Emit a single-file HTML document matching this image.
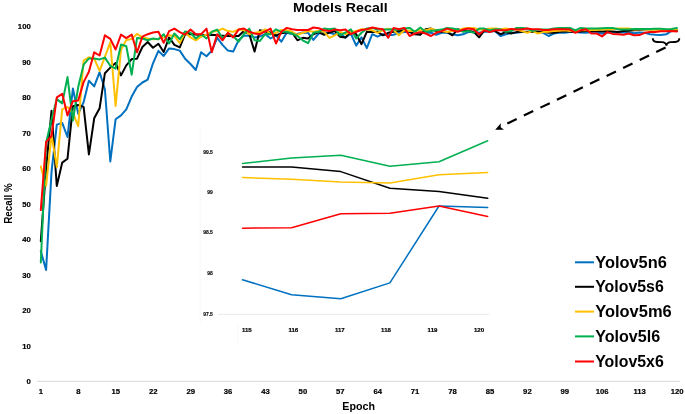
<!DOCTYPE html>
<html><head><meta charset="utf-8"><title>Models Recall</title>
<style>
html,body{margin:0;padding:0;background:#fff;}
body{width:685px;height:414px;overflow:hidden;}
svg{display:block;}
text{font-family:"Liberation Sans",sans-serif;font-weight:bold;fill:#000;}
.t{font-size:7.7px;stroke:#000;stroke-width:0.2px;}
.i{font-size:5px;stroke:#000;stroke-width:0.1px;}.j{font-size:6.1px;stroke:#000;stroke-width:0.2px;}
.l{font-size:17.3px;}
polyline{fill:none;stroke-linejoin:round;stroke-linecap:round;}
</style></head><body>
<svg width="685" height="414" viewBox="0 0 685 414">
<rect width="685" height="414" fill="#fff"/>

<text x="292.9" y="12" textLength="94.8" lengthAdjust="spacingAndGlyphs" style="font-size:13.7px">Models Recall</text>
<line x1="37.2" y1="381.3" x2="680" y2="381.3" stroke="#d9d9d9" stroke-width="1"/>
<text class="t" x="30.7" y="383.9" text-anchor="end">0</text>
<text class="t" x="30.7" y="348.5" text-anchor="end">10</text>
<text class="t" x="30.7" y="313.0" text-anchor="end">20</text>
<text class="t" x="30.7" y="277.6" text-anchor="end">30</text>
<text class="t" x="30.7" y="242.1" text-anchor="end">40</text>
<text class="t" x="30.7" y="206.7" text-anchor="end">50</text>
<text class="t" x="30.7" y="171.2" text-anchor="end">60</text>
<text class="t" x="30.7" y="135.8" text-anchor="end">70</text>
<text class="t" x="30.7" y="100.3" text-anchor="end">80</text>
<text class="t" x="30.7" y="64.8" text-anchor="end">90</text>
<text class="t" x="30.7" y="29.4" text-anchor="end">100</text>
<text class="t" x="41.0" y="394.0" text-anchor="middle">1</text>
<text class="t" x="78.4" y="394.0" text-anchor="middle">8</text>
<text class="t" x="115.8" y="394.0" text-anchor="middle">15</text>
<text class="t" x="153.2" y="394.0" text-anchor="middle">22</text>
<text class="t" x="190.7" y="394.0" text-anchor="middle">29</text>
<text class="t" x="228.1" y="394.0" text-anchor="middle">36</text>
<text class="t" x="265.5" y="394.0" text-anchor="middle">43</text>
<text class="t" x="302.9" y="394.0" text-anchor="middle">50</text>
<text class="t" x="340.3" y="394.0" text-anchor="middle">57</text>
<text class="t" x="377.7" y="394.0" text-anchor="middle">64</text>
<text class="t" x="415.1" y="394.0" text-anchor="middle">71</text>
<text class="t" x="452.6" y="394.0" text-anchor="middle">78</text>
<text class="t" x="490.0" y="394.0" text-anchor="middle">85</text>
<text class="t" x="527.4" y="394.0" text-anchor="middle">92</text>
<text class="t" x="564.8" y="394.0" text-anchor="middle">99</text>
<text class="t" x="602.2" y="394.0" text-anchor="middle">106</text>
<text class="t" x="639.6" y="394.0" text-anchor="middle">113</text>
<text class="t" x="677.1" y="394.0" text-anchor="middle">120</text>
<text x="358.6" y="409.7" text-anchor="middle" style="font-size:10.7px">Epoch</text>
<text transform="translate(11.6,203.6) rotate(-90)" text-anchor="middle" textLength="40.4" lengthAdjust="spacingAndGlyphs" style="font-size:11.3px">Recall %</text>
<polyline points="40.8,251.2 46.1,270.0 51.5,172.1 56.8,124.6 62.2,122.9 67.5,137.0 72.9,88.5 78.2,113.7 83.6,102.3 88.9,80.7 94.2,86.4 99.6,72.2 104.9,89.2 110.3,161.5 115.6,119.3 121.0,115.4 126.3,109.4 131.7,96.6 137.0,87.1 142.4,82.5 147.7,79.6 153.0,63.3 158.4,50.9 163.7,55.9 169.1,48.4 174.4,49.1 179.8,50.6 185.1,58.7 190.5,64.0 195.8,70.0 201.1,52.3 206.5,56.2 211.8,50.6 217.2,37.8 222.5,44.9 227.9,50.6 233.2,51.6 238.6,40.3 243.9,35.7 249.3,35.7 254.6,37.4 259.9,36.4 265.3,34.2 270.6,38.5 276.0,35.3 281.3,41.7 286.7,32.8 292.0,33.9 297.4,33.9 302.7,32.5 308.1,32.8 313.4,39.9 318.7,33.5 324.1,32.8 329.4,32.8 334.8,34.2 340.1,33.5 345.5,37.8 350.8,33.5 356.2,45.6 361.5,37.4 366.8,48.1 372.2,34.2 377.5,36.7 382.9,34.2 388.2,35.3 393.6,34.8 398.9,32.8 404.3,32.1 409.6,32.1 414.9,34.2 420.3,32.8 425.6,32.8 431.0,32.8 436.3,34.8 441.7,32.8 447.0,32.8 452.4,34.2 457.7,35.3 463.1,34.2 468.4,32.1 473.7,32.1 479.1,32.8 484.4,31.8 489.8,31.8 495.1,31.1 500.5,36.0 505.8,34.2 511.2,32.8 516.5,32.8 521.8,32.1 527.2,32.1 532.5,32.1 537.9,32.1 543.2,32.8 548.6,36.0 553.9,33.5 559.3,32.8 564.6,32.8 570.0,32.1 575.3,32.1 580.6,32.5 586.0,32.8 591.3,32.1 596.7,32.5 602.0,33.5 607.4,32.5 612.7,32.5 618.1,32.5 623.4,32.5 628.7,32.5 634.1,33.2 639.4,32.5 644.8,32.8 650.1,34.2 655.5,34.8 660.8,35.0 666.2,34.3 671.5,30.9 676.9,31.0" stroke="#0070C0" stroke-width="2"/>
<polyline points="40.8,241.3 46.1,168.6 51.5,110.8 56.8,186.0 62.2,162.6 67.5,158.7 72.9,106.2 78.2,105.1 83.6,106.9 88.9,154.4 94.2,118.3 99.6,108.3 104.9,73.2 110.3,67.6 115.6,63.0 121.0,75.4 126.3,65.4 131.7,59.1 137.0,58.7 142.4,47.0 147.7,42.0 153.0,47.7 158.4,43.8 163.7,52.0 169.1,37.4 174.4,44.9 179.8,47.4 185.1,34.2 190.5,33.9 195.8,34.6 201.1,35.3 206.5,35.0 211.8,34.8 217.2,35.3 222.5,35.7 227.9,36.0 233.2,36.0 238.6,36.0 243.9,31.1 249.3,34.2 254.6,51.6 259.9,30.3 265.3,31.4 270.6,32.5 276.0,35.7 281.3,33.2 286.7,32.5 292.0,32.5 297.4,40.3 302.7,37.8 308.1,38.5 313.4,34.2 318.7,32.1 324.1,34.8 329.4,32.5 334.8,31.1 340.1,36.7 345.5,37.4 350.8,31.8 356.2,34.2 361.5,44.2 366.8,31.8 372.2,32.1 377.5,31.8 382.9,35.3 388.2,32.8 393.6,31.8 398.9,31.1 404.3,30.3 409.6,31.8 414.9,34.2 420.3,34.8 425.6,29.3 431.0,28.6 436.3,31.1 441.7,31.8 447.0,31.8 452.4,35.3 457.7,29.3 463.1,31.1 468.4,31.1 473.7,31.8 479.1,37.4 484.4,30.3 489.8,31.1 495.1,31.1 500.5,34.2 505.8,32.1 511.2,33.5 516.5,32.1 521.8,31.8 527.2,31.8 532.5,32.1 537.9,31.8 543.2,31.8 548.6,32.8 553.9,32.8 559.3,31.8 564.6,31.4 570.0,31.4 575.3,32.1 580.6,31.4 586.0,31.1 591.3,31.1 596.7,31.1 602.0,31.4 607.4,31.1 612.7,31.4 618.1,32.1 623.4,31.1 628.7,30.7 634.1,30.3 639.4,30.0 644.8,29.6 650.1,29.2 655.5,29.2 660.8,29.4 666.2,30.2 671.5,30.3 676.9,30.6" stroke="#000000" stroke-width="2"/>
<polyline points="40.8,166.5 46.1,186.0 51.5,134.9 56.8,167.2 62.2,109.4 67.5,106.9 72.9,112.9 78.2,126.1 83.6,60.5 88.9,57.3 94.2,58.7 99.6,70.8 104.9,56.9 110.3,42.4 115.6,105.9 121.0,49.8 126.3,39.9 131.7,38.9 137.0,33.9 142.4,37.4 147.7,38.5 153.0,39.2 158.4,38.9 163.7,37.4 169.1,35.3 174.4,36.0 179.8,43.1 185.1,32.5 190.5,37.4 195.8,40.3 201.1,36.7 206.5,34.6 211.8,31.8 217.2,31.1 222.5,28.6 227.9,31.1 233.2,31.8 238.6,29.3 243.9,30.3 249.3,34.2 254.6,32.8 259.9,32.1 265.3,29.3 270.6,34.2 276.0,32.8 281.3,30.0 286.7,30.3 292.0,31.8 297.4,34.8 302.7,32.8 308.1,31.1 313.4,31.8 318.7,31.1 324.1,31.8 329.4,37.8 334.8,35.3 340.1,31.8 345.5,34.2 350.8,32.1 356.2,31.1 361.5,29.3 366.8,29.6 372.2,30.3 377.5,32.8 382.9,30.3 388.2,28.6 393.6,30.0 398.9,35.3 404.3,30.3 409.6,31.1 414.9,31.1 420.3,30.3 425.6,30.3 431.0,28.6 436.3,30.3 441.7,31.1 447.0,32.1 452.4,31.1 457.7,30.3 463.1,28.6 468.4,27.9 473.7,27.9 479.1,29.6 484.4,29.6 489.8,28.6 495.1,28.6 500.5,29.3 505.8,28.6 511.2,29.3 516.5,29.6 521.8,31.1 527.2,32.8 532.5,31.1 537.9,33.5 543.2,32.1 548.6,31.8 553.9,31.1 559.3,30.7 564.6,30.3 570.0,31.1 575.3,30.7 580.6,30.3 586.0,30.3 591.3,30.0 596.7,30.0 602.0,29.6 607.4,29.6 612.7,29.3 618.1,28.6 623.4,28.6 628.7,28.6 634.1,29.6 639.4,29.6 644.8,29.6 650.1,29.7 655.5,29.8 660.8,29.9 666.2,29.9 671.5,29.6 676.9,29.5" stroke="#FFC000" stroke-width="2"/>
<polyline points="40.8,262.5 46.1,142.7 51.5,119.7 56.8,99.1 62.2,103.4 67.5,77.1 72.9,120.7 78.2,87.1 83.6,64.7 88.9,58.4 94.2,58.4 99.6,59.4 104.9,57.6 110.3,65.8 115.6,68.6 121.0,44.5 126.3,46.3 131.7,74.7 137.0,38.1 142.4,38.5 147.7,40.3 153.0,38.5 158.4,39.2 163.7,34.2 169.1,43.5 174.4,33.5 179.8,39.2 185.1,31.4 190.5,32.8 195.8,38.5 201.1,34.2 206.5,38.5 211.8,31.8 217.2,29.6 222.5,38.5 227.9,33.5 233.2,36.0 238.6,41.7 243.9,34.2 249.3,28.6 254.6,40.3 259.9,41.0 265.3,33.9 270.6,34.2 276.0,29.3 281.3,31.8 286.7,31.8 292.0,33.5 297.4,36.0 302.7,40.3 308.1,43.1 313.4,32.8 318.7,31.8 324.1,28.6 329.4,29.3 334.8,28.6 340.1,35.3 345.5,32.5 350.8,29.3 356.2,38.5 361.5,32.8 366.8,28.6 372.2,27.9 377.5,29.6 382.9,29.6 388.2,29.6 393.6,29.3 398.9,29.6 404.3,28.6 409.6,27.9 414.9,31.8 420.3,27.5 425.6,31.8 431.0,31.1 436.3,30.3 441.7,29.6 447.0,27.9 452.4,28.6 457.7,29.6 463.1,31.8 468.4,31.1 473.7,32.8 479.1,28.6 484.4,28.6 489.8,30.3 495.1,29.3 500.5,29.3 505.8,31.8 511.2,31.1 516.5,27.9 521.8,27.9 527.2,28.6 532.5,31.1 537.9,29.6 543.2,29.6 548.6,29.6 553.9,28.6 559.3,27.9 564.6,27.9 570.0,27.9 575.3,30.3 580.6,27.9 586.0,28.6 591.3,28.6 596.7,28.6 602.0,28.2 607.4,27.9 612.7,27.9 618.1,29.3 623.4,29.6 628.7,29.6 634.1,28.9 639.4,28.9 644.8,28.9 650.1,29.1 655.5,28.8 660.8,28.7 666.2,29.2 671.5,29.0 676.9,28.1" stroke="#00B050" stroke-width="2"/>
<polyline points="40.8,210.1 46.1,142.0 51.5,136.0 56.8,97.3 62.2,93.8 67.5,115.4 72.9,101.2 78.2,100.5 83.6,82.1 88.9,71.8 94.2,52.3 99.6,55.5 104.9,35.3 110.3,38.9 115.6,49.5 121.0,34.6 126.3,38.1 131.7,34.6 137.0,52.3 142.4,36.7 147.7,34.2 153.0,32.5 158.4,31.8 163.7,42.8 169.1,31.1 174.4,28.6 179.8,32.1 185.1,34.6 190.5,29.6 195.8,34.2 201.1,34.2 206.5,28.6 211.8,52.3 217.2,34.2 222.5,40.3 227.9,32.8 233.2,37.4 238.6,29.6 243.9,28.6 249.3,31.8 254.6,33.5 259.9,34.2 265.3,31.4 270.6,28.6 276.0,43.5 281.3,31.8 286.7,27.9 292.0,29.3 297.4,30.0 302.7,30.0 308.1,30.0 313.4,27.5 318.7,28.2 324.1,30.3 329.4,31.1 334.8,29.6 340.1,30.3 345.5,29.6 350.8,34.2 356.2,31.8 361.5,30.0 366.8,29.3 372.2,27.5 377.5,28.6 382.9,29.3 388.2,37.8 393.6,27.9 398.9,29.3 404.3,27.9 409.6,36.0 414.9,33.5 420.3,32.1 425.6,33.5 431.0,36.0 436.3,32.8 441.7,31.1 447.0,28.6 452.4,30.3 457.7,31.8 463.1,29.6 468.4,28.6 473.7,29.3 479.1,34.2 484.4,30.3 489.8,32.1 495.1,30.3 500.5,30.3 505.8,30.3 511.2,28.9 516.5,29.6 521.8,29.3 527.2,28.6 532.5,29.3 537.9,29.3 543.2,30.0 548.6,30.0 553.9,29.3 559.3,29.3 564.6,29.3 570.0,29.6 575.3,32.8 580.6,30.3 586.0,29.3 591.3,33.5 596.7,33.5 602.0,36.4 607.4,32.1 612.7,33.9 618.1,34.2 623.4,34.8 628.7,33.5 634.1,35.3 639.4,35.1 644.8,32.8 650.1,31.9 655.5,31.9 660.8,31.3 666.2,31.3 671.5,30.9 676.9,31.4" stroke="#FF0000" stroke-width="2"/>
<line x1="200.3" y1="128" x2="200.3" y2="323.6" stroke="#f6f6f6" stroke-width="0.7"/>
<line x1="237.6" y1="324.3" x2="237.6" y2="342.5" stroke="#f6f6f6" stroke-width="0.7"/>
<line x1="217.8" y1="314.3" x2="489" y2="314.3" stroke="#dedede" stroke-width="0.7"/>
<text class="i" x="212.9" y="153.8" text-anchor="end">99.5</text>
<text class="i" x="212.9" y="194.1" text-anchor="end">99</text>
<text class="i" x="212.9" y="234.4" text-anchor="end">98.5</text>
<text class="i" x="212.9" y="275.1" text-anchor="end">98</text>
<text class="i" x="212.9" y="315.7" text-anchor="end">97.5</text>
<text class="j" x="246.8" y="331.9" text-anchor="middle">115</text>
<text class="j" x="293.3" y="331.9" text-anchor="middle">116</text>
<text class="j" x="339.8" y="331.9" text-anchor="middle">117</text>
<text class="j" x="386.0" y="331.9" text-anchor="middle">118</text>
<text class="j" x="432.5" y="331.9" text-anchor="middle">119</text>
<text class="j" x="479.0" y="331.9" text-anchor="middle">120</text>
<polyline points="242.5,279.8 291.6,294.7 340.8,298.8 389.9,282.9 439.0,206.0 487.7,207.4" stroke="#0070C0" stroke-width="1.5"/>
<polyline points="242.5,167.1 291.6,167.1 340.8,171.6 389.9,188.3 439.0,191.5 487.7,198.3" stroke="#000000" stroke-width="1.5"/>
<polyline points="242.5,177.5 291.6,179.3 340.8,182.0 389.9,182.9 439.0,174.8 487.7,172.5" stroke="#FFC000" stroke-width="1.5"/>
<polyline points="242.5,163.5 291.6,158.0 340.8,155.3 389.9,166.2 439.0,161.7 487.7,140.8" stroke="#00B050" stroke-width="1.5"/>
<polyline points="242.5,228.2 291.6,227.7 340.8,213.7 389.9,213.2 439.0,206.0 487.7,216.4" stroke="#FF0000" stroke-width="1.5"/>
<path d="M652.8,38.3 C652.8,41.4 654.3,42 657,42 L662,42.1 C664.6,42.2 666,43 666.4,45.6 C666.8,43 668.2,42.2 670.8,42.1 L675,42 C677.8,42 679.3,41.4 679.3,38.3" fill="none" stroke="#000" stroke-width="1.9"/>
<line x1="665.6" y1="47.6" x2="507.3" y2="123.5" stroke="#000" stroke-width="2.2" stroke-dasharray="10.4,7.95"/>
<path d="M495.2,129.8 L500.8,123.3 L500.7,127.3 L504,129.7 Z" fill="#000"/>
<line x1="575" y1="262.3" x2="594" y2="262.3" stroke="#0070C0" stroke-width="2"/>
<text class="l" x="595.2" y="267.8" textLength="71.6" lengthAdjust="spacingAndGlyphs">Yolov5n6</text>
<line x1="575" y1="286.8" x2="594" y2="286.8" stroke="#000000" stroke-width="2"/>
<text class="l" x="595.2" y="292.3" textLength="68.6" lengthAdjust="spacingAndGlyphs">Yolov5s6</text>
<line x1="575" y1="311.6" x2="594" y2="311.6" stroke="#FFC000" stroke-width="2"/>
<text class="l" x="595.2" y="317.1" textLength="76.5" lengthAdjust="spacingAndGlyphs">Yolov5m6</text>
<line x1="575" y1="336.4" x2="594" y2="336.4" stroke="#00B050" stroke-width="2"/>
<text class="l" x="595.2" y="341.9" textLength="65.0" lengthAdjust="spacingAndGlyphs">Yolov5l6</text>
<line x1="575" y1="361.5" x2="594" y2="361.5" stroke="#FF0000" stroke-width="2"/>
<text class="l" x="595.2" y="367.0" textLength="68.6" lengthAdjust="spacingAndGlyphs">Yolov5x6</text>
</svg></body></html>
